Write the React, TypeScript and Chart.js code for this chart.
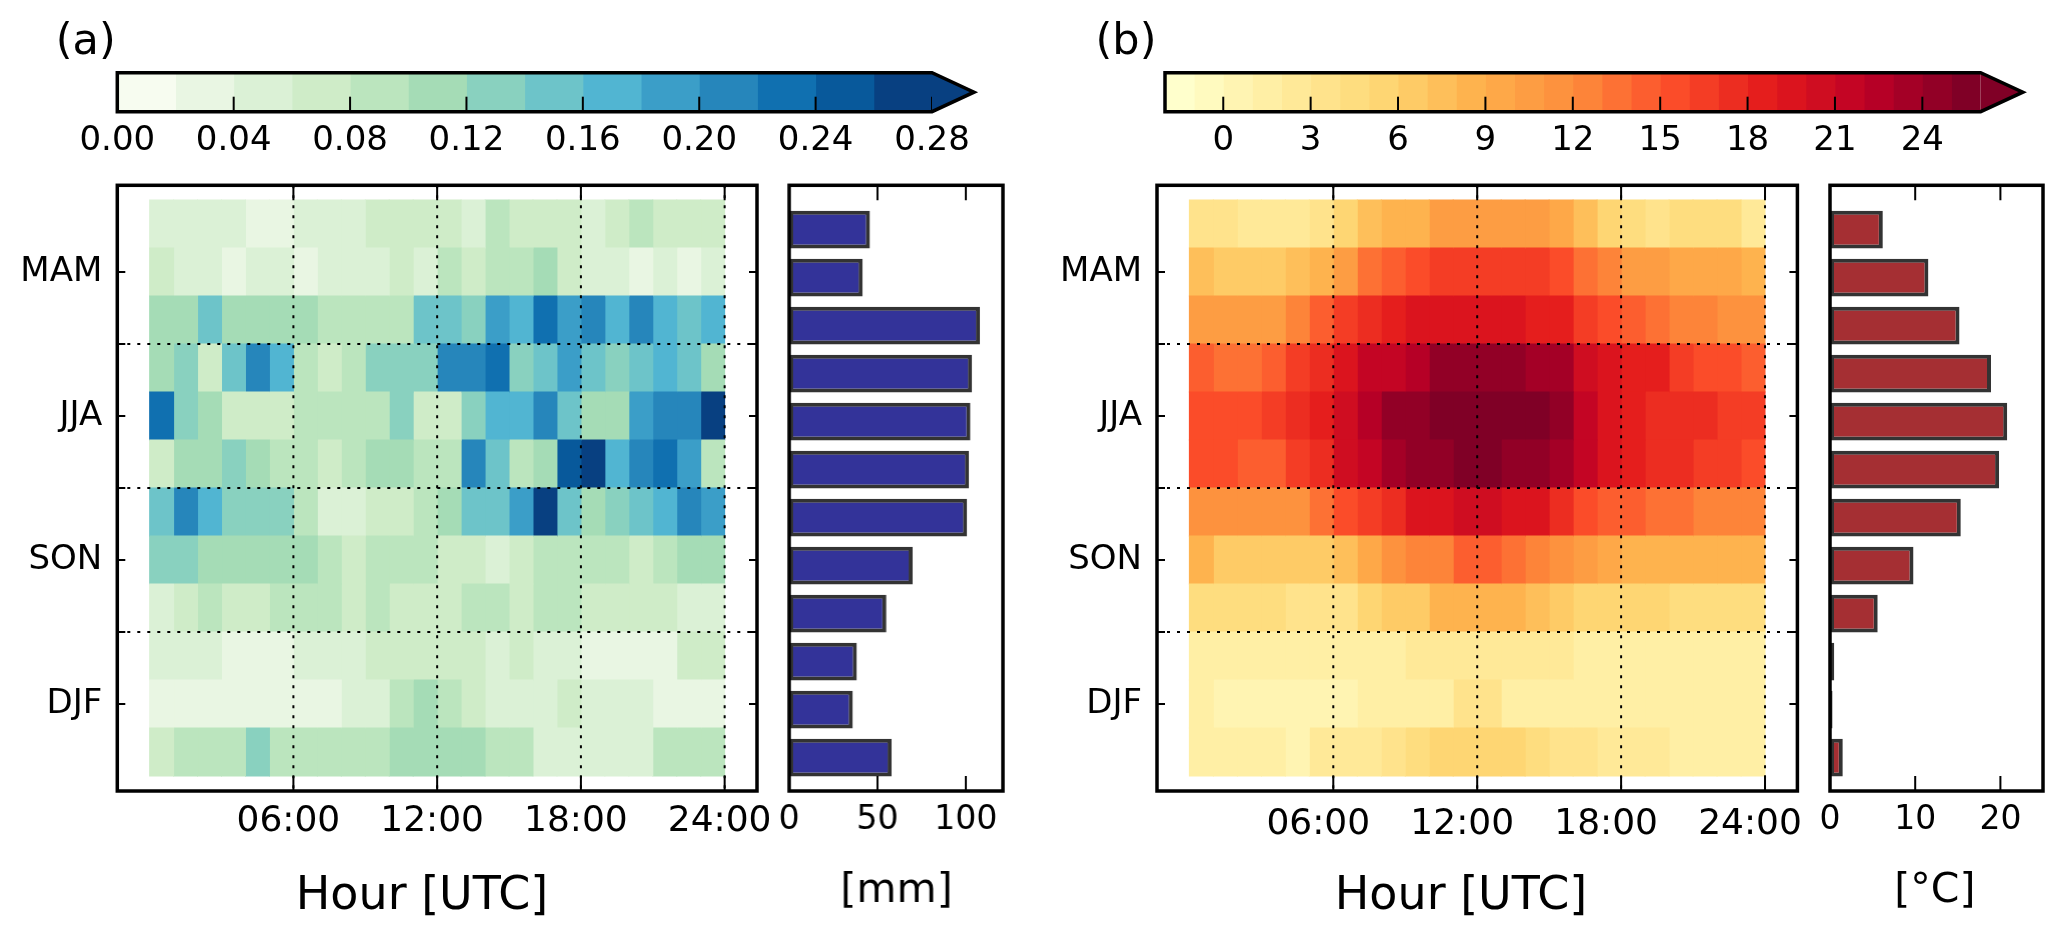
import React, { useEffect, useRef } from "react";
import { Chart, registerables } from "chart.js";

Chart.register(...registerables);

// ---------- data ----------
const seasonLabels = ["MAM", "JJA", "SON", "DJF"];
const hourTickValues = [6, 12, 18, 24];
const hourLabels = ["06:00", "12:00", "18:00", "24:00"];
const hours = [0, 1, 2, 3, 4, 5, 6, 7, 8, 9, 10, 11, 12, 13, 14, 15, 16, 17, 18, 19, 20, 21, 22, 23];

const precipMar = [.05,.05,.05,.05,.03,.03,.05,.05,.05,.07,.07,.07,.07,.05,.09,.07,.07,.07,.05,.07,.09,.07,.07,.07];
const precipApr = [.07,.05,.05,.03,.05,.05,.03,.05,.05,.05,.07,.05,.09,.07,.09,.09,.11,.07,.05,.05,.03,.05,.03,.05];
const precipMay = [.11,.11,.15,.11,.11,.11,.11,.09,.09,.09,.09,.15,.15,.13,.19,.17,.23,.19,.21,.17,.21,.17,.15,.17];
const precipJun = [.11,.13,.07,.15,.21,.17,.09,.07,.09,.13,.13,.13,.21,.21,.23,.13,.15,.19,.15,.13,.15,.17,.15,.11];
const precipJul = [.23,.13,.11,.07,.07,.07,.09,.09,.09,.09,.13,.07,.07,.13,.17,.17,.21,.15,.11,.11,.19,.21,.21,.27];
const precipAug = [.07,.11,.11,.13,.11,.09,.09,.07,.09,.11,.11,.09,.09,.21,.15,.09,.11,.25,.27,.17,.21,.23,.19,.09];
const precipSep = [.15,.21,.17,.13,.13,.13,.09,.05,.05,.07,.07,.09,.11,.15,.15,.19,.27,.15,.11,.13,.15,.17,.21,.19];
const precipOct = [.13,.13,.11,.11,.11,.11,.11,.09,.07,.09,.09,.09,.07,.07,.05,.07,.09,.09,.09,.09,.07,.09,.11,.11];
const precipNov = [.05,.07,.09,.07,.07,.09,.09,.09,.07,.09,.07,.07,.07,.09,.09,.07,.09,.09,.07,.07,.07,.07,.05,.05];
const precipDec = [.05,.05,.05,.03,.03,.03,.05,.05,.05,.07,.07,.07,.07,.07,.05,.07,.05,.05,.03,.03,.03,.03,.07,.07];
const precipJan = [.03,.03,.03,.03,.03,.03,.03,.03,.05,.05,.09,.11,.09,.07,.05,.05,.05,.07,.05,.05,.05,.03,.03,.03];
const precipFeb = [.07,.09,.09,.09,.13,.09,.09,.09,.09,.09,.11,.11,.11,.11,.09,.09,.05,.05,.05,.05,.05,.09,.09,.09];
const precipRows = [precipMar, precipApr, precipMay, precipJun, precipJul, precipAug, precipSep, precipOct, precipNov, precipDec, precipJan, precipFeb];

const tempMar = [3.5,3.5,2.5,2.5,2.5,3.5,5.5,7.5,8.5,8.5,10.5,10.5,10.5,10.5,10.5,9.5,7.5,5.5,4.5,3.5,4.5,4.5,4.5,2.5];
const tempApr = [7.5,6.5,6.5,6.5,7.5,8.5,10.5,13.5,14.5,15.5,16.5,16.5,16.5,16.5,16.5,15.5,13.5,12.5,10.5,10.5,9.5,9.5,9.5,8.5];
const tempMay = [10.5,10.5,10.5,10.5,12.5,14.5,16.5,17.5,18.5,19.5,19.5,19.5,19.5,19.5,18.5,18.5,16.5,15.5,14.5,13.5,12.5,12.5,11.5,11.5];
const tempJun = [14.5,13.5,13.5,14.5,16.5,17.5,19.5,21.5,21.5,22.5,24.5,24.5,24.5,24.5,23.5,23.5,20.5,19.5,18.5,18.5,16.5,15.5,15.5,14.5];
const tempJul = [15.5,15.5,15.5,16.5,17.5,18.5,20.5,22.5,24.5,24.5,25.5,25.5,25.5,25.5,25.5,24.5,21.5,19.5,18.5,17.5,17.5,17.5,16.5,16.5];
const tempAug = [15.5,15.5,14.5,14.5,16.5,17.5,20.5,21.5,23.5,24.5,24.5,25.5,25.5,24.5,24.5,23.5,21.5,19.5,18.5,17.5,17.5,16.5,16.5,15.5];
const tempSep = [11.5,11.5,11.5,11.5,11.5,13.5,15.5,16.5,17.5,19.5,19.5,20.5,20.5,19.5,19.5,17.5,15.5,14.5,14.5,13.5,13.5,12.5,12.5,12.5];
const tempOct = [8.5,6.5,6.5,6.5,6.5,6.5,7.5,9.5,11.5,12.5,12.5,14.5,14.5,13.5,12.5,11.5,10.5,9.5,8.5,8.5,8.5,8.5,8.5,8.5];
const tempNov = [4.5,4.5,4.5,4.5,3.5,3.5,3.5,5.5,6.5,6.5,8.5,8.5,8.5,8.5,7.5,6.5,5.5,5.5,5.5,5.5,4.5,4.5,4.5,4.5];
const tempDec = [1.5,1.5,1.5,1.5,1.5,1.5,1.5,1.5,1.5,2.5,2.5,2.5,2.5,2.5,2.5,2.5,1.5,1.5,1.5,1.5,1.5,1.5,1.5,1.5];
const tempJan = [1.5,0.5,0.5,0.5,0.5,0.5,0.5,1.5,1.5,1.5,1.5,3.5,3.5,1.5,1.5,1.5,1.5,1.5,1.5,1.5,1.5,1.5,1.5,1.5];
const tempFeb = [1.5,1.5,1.5,1.5,0.5,2.5,2.5,2.5,3.5,4.5,5.5,5.5,5.5,5.5,4.5,3.5,3.5,2.5,2.5,2.5,1.5,1.5,1.5,1.5];
const tempRows = [tempMar, tempApr, tempMay, tempJun, tempJul, tempAug, tempSep, tempOct, tempNov, tempDec, tempJan, tempFeb];

const precipTotals = [45.7, 41.6, 108, 103.5, 102.6, 101.8, 100.7, 69.9, 55, 38.3, 36, 58];
const tempMeans = [6.2, 11.55, 15.2, 18.9, 20.8, 19.85, 15.35, 9.8, 5.6, 0.5, 0.3, 1.5];

const precipCbTicks = [0, 0.04, 0.08, 0.12, 0.16, 0.2, 0.24, 0.28];
const tempCbTicks = [0, 3, 6, 9, 12, 15, 18, 21, 24];
const precipBarTicks = [0, 50, 100];
const tempBarTicks = [0, 10, 20];

const GNBU = ["#f7fcf0", "#e0f3db", "#ccebc5", "#a8ddb5", "#7bccc4", "#4eb3d3", "#2b8cbe", "#0868ac", "#084081"];
const YLORRD = ["#ffffcc", "#ffeda0", "#fed976", "#feb24c", "#fd8d3c", "#fc4e2a", "#e31a1c", "#bd0026", "#800026"];

// ---------- helpers ----------
const FONT = "'DejaVu Sans', sans-serif";
Chart.defaults.font.family = FONT;
Chart.defaults.color = "#000";

const hex = (s: string) => [1, 3, 5].map((i) => parseInt(s.slice(i, i + 2), 16));
function ramp(stops: string[], t: number) {
  const p = Math.min(Math.max(t, 0), 1) * (stops.length - 1);
  const i = Math.min(Math.floor(p), stops.length - 2);
  const a = hex(stops[i]);
  const b = hex(stops[i + 1]);
  const f = p - i;
  return `rgb(${a.map((v, k) => Math.round(v + (b[k] - v) * f)).join(",")})`;
}
type Norm = { min: number; step: number; n: number; stops: string[] };
function levelColor(norm: Norm, v: number) {
  const idx = Math.min(Math.max(Math.floor((v - norm.min) / norm.step), 0), norm.n - 1);
  return ramp(norm.stops, idx / (norm.n - 1));
}
const precipNorm: Norm = { min: 0, step: 0.02, n: 14, stops: GNBU };
const tempNorm: Norm = { min: -2, step: 1, n: 28, stops: YLORRD };

type Deco = {
  frame?: boolean;
  arrowTip?: number;
  arrowColor?: string;
  xTickLen?: number;
  xTop?: boolean;
  xBottom?: boolean;
  skipZero?: boolean;
  vDots?: number[];
  hDots?: number[];
  yTickVals?: number[];
  texts?: { t: string; x: number; y: number; size: number }[];
  originX: number;
  originY: number;
};

function decoPlugin(d: Deco) {
  return {
    id: "deco",
    afterDatasetsDraw(chart: any) {
      const { ctx, chartArea: a, scales } = chart;
      const sx = scales.x;
      const sy = scales.y;
      ctx.save();
      ctx.strokeStyle = "#000";
      ctx.fillStyle = "#000";
      // dotted guide lines
      ctx.lineWidth = 2;
      ctx.setLineDash([3, 7]);
      (d.vDots || []).forEach((v) => {
        const x = sx.getPixelForValue(v);
        ctx.beginPath();
        ctx.moveTo(x, a.top);
        ctx.lineTo(x, a.bottom);
        ctx.stroke();
      });
      (d.hDots || []).forEach((v) => {
        const y = sy.getPixelForValue(v);
        ctx.beginPath();
        ctx.moveTo(a.left, y);
        ctx.lineTo(a.right, y);
        ctx.stroke();
      });
      ctx.setLineDash([]);
      // inward ticks
      const len = d.xTickLen ?? 15;
      sx.ticks.forEach((tk: any) => {
        if (d.skipZero && tk.value === sx.min) return;
        const x = sx.getPixelForValue(tk.value);
        ctx.beginPath();
        if (d.xTop) {
          ctx.moveTo(x, a.top);
          ctx.lineTo(x, a.top + len);
        }
        if (d.xBottom) {
          ctx.moveTo(x, a.bottom);
          ctx.lineTo(x, a.bottom - len);
        }
        ctx.stroke();
      });
      (d.yTickVals || []).forEach((v) => {
        const y = sy.getPixelForValue(v);
        ctx.beginPath();
        ctx.moveTo(a.left, y);
        ctx.lineTo(a.left + 8, y);
        ctx.moveTo(a.right, y);
        ctx.lineTo(a.right - 8, y);
        ctx.stroke();
      });
      // arrow of the colour bar
      if (d.arrowTip !== undefined) {
        const mid = (a.top + a.bottom) / 2;
        const tip = d.arrowTip - d.originX;
        ctx.beginPath();
        ctx.moveTo(a.right, a.top);
        ctx.lineTo(tip, mid);
        ctx.lineTo(a.right, a.bottom);
        ctx.closePath();
        ctx.fillStyle = d.arrowColor;
        ctx.fill();
        ctx.fillStyle = "#000";
        ctx.lineWidth = 3.5;
        ctx.lineJoin = "miter";
        ctx.beginPath();
        ctx.moveTo(a.left, a.top);
        ctx.lineTo(a.right, a.top);
        ctx.lineTo(tip, mid);
        ctx.lineTo(a.right, a.bottom);
        ctx.lineTo(a.left, a.bottom);
        ctx.closePath();
        ctx.stroke();
      }
      if (d.frame) {
        ctx.lineWidth = 3.5;
        ctx.strokeRect(a.left, a.top, a.right - a.left, a.bottom - a.top);
      }
      (d.texts || []).forEach((t) => {
        ctx.font = `${t.size}px ${FONT}`;
        ctx.textAlign = "center";
        ctx.textBaseline = "middle";
        ctx.fillText(t.t, t.x - d.originX, t.y - d.originY);
      });
      ctx.restore();
    },
  };
}

const baseOptions = {
  responsive: false,
  animation: false,
  events: [],
  indexAxis: "y",
  plugins: { legend: { display: false }, tooltip: { enabled: false } },
};

// ---------- layout ----------
const Y_TOP = 185.3;
const Y_BOTTOM = 791;
const CB_TOP = 72.7;
const CB_BOTTOM = 111.7;
const PAGE_H = 941;

type PanelSpec = {
  originX: number;
  cbLeft: number; cbRight: number; cbTip: number;
  heatLeft: number; heatRight: number;
  barLeft: number; barRight: number;
  hourLabelOffset: number;
  tickPad: number;
  rows: number[][];
  norm: Norm;
  totals: number[];
  barMax: number;
  barStep: number;
  barColor: string;
  cbMax: number;
  cbTicks: number[];
  cbFormat: (v: number) => string;
  barTicks: number[];
  panel: string; panelX: number;
  hourTitleX: number;
  unit: string; unitX: number;
};

const panelA: PanelSpec = {
  originX: 0, cbLeft: 117.3, cbRight: 932, cbTip: 974,
  heatLeft: 117.3, heatRight: 757, barLeft: 789, barRight: 1002.6,
  hourLabelOffset: -5, tickPad: 1,
  rows: precipRows, norm: precipNorm, totals: precipTotals,
  barMax: 121, barStep: 50, barColor: "#333399",
  cbMax: 0.28, cbTicks: precipCbTicks, cbFormat: (v) => v.toFixed(2), barTicks: precipBarTicks,
  panel: "(a)", panelX: 85.7, hourTitleX: 422, unit: "[mm]", unitX: 896,
};
const panelB: PanelSpec = {
  originX: 1034, cbLeft: 1165, cbRight: 1980.6, cbTip: 2022.8,
  heatLeft: 1157, heatRight: 1797.4, barLeft: 1829.6, barRight: 2042.6,
  hourLabelOffset: -15, tickPad: 4,
  rows: tempRows, norm: tempNorm, totals: tempMeans,
  barMax: 25, barStep: 10, barColor: "#a52f33",
  cbMax: 26, cbTicks: tempCbTicks, cbFormat: (v) => String(v), barTicks: tempBarTicks,
  panel: "(b)", panelX: 1126, hourTitleX: 1461, unit: "[\u00b0C]", unitX: 1934.5,
};

function place(canvas: HTMLCanvasElement, x: number, y: number, w: number, h: number) {
  canvas.width = w;
  canvas.height = h;
  canvas.style.cssText = `position:absolute;left:${x}px;top:${y}px;width:${w}px;height:${h}px;`;
}

function buildPanel(p: PanelSpec, cv: HTMLCanvasElement[]) {
  const charts: Chart[] = [];

  // colour bar: one floating bar per level
  const cbX = Math.max(p.originX, 0);
  const cbW = 1033;
  const cbH = 170;
  place(cv[0], cbX, 0, cbW, cbH);
  const levels = Array.from({ length: p.norm.n }, (_, i) => i);
  charts.push(
    new Chart(cv[0], {
      type: "bar",
      data: {
        labels: ["bar"],
        datasets: levels.map((i) => ({
          data: [[p.norm.min + i * p.norm.step, p.norm.min + (i + 1) * p.norm.step]],
          backgroundColor: ramp(p.norm.stops, i / (p.norm.n - 1)),
          grouped: false,
          barPercentage: 1,
          categoryPercentage: 1,
          borderWidth: 0,
          inflateAmount: 0.5,
        })),
      },
      options: {
        ...baseOptions,
        layout: { padding: { left: p.cbLeft - cbX, right: cbX + cbW - p.cbRight, top: CB_TOP, bottom: 0 } },
        scales: {
          x: {
            type: "linear",
            min: p.norm.min,
            max: p.cbMax,
            afterBuildTicks: (s: any) => { s.ticks = p.cbTicks.map((value) => ({ value })); },
            afterFit: (s: any) => { s.height = cbH - CB_BOTTOM; },
            grid: { display: false },
            border: { display: false },
            ticks: {
              autoSkip: false, maxRotation: 0, padding: 1, font: { size: 34 }, color: "#000",
              callback: (v: number) => p.cbFormat(v),
            },
          },
          y: { display: false },
        },
      },
      plugins: [decoPlugin({
        originX: cbX, originY: 0, xBottom: true, xTickLen: 15, skipZero: true,
        arrowTip: p.cbTip, arrowColor: ramp(p.norm.stops, 1),
        texts: [{ t: p.panel, x: p.panelX, y: 43, size: 43 }],
      })],
    } as any),
  );

  // heat map: one stacked bar series per hour, one bar per month row
  const heatTop = 140;
  const heatX = p.originX;
  const heatW = 800;
  const heatH = PAGE_H - heatTop;
  place(cv[1], heatX, heatTop, heatW, heatH);
  charts.push(
    new Chart(cv[1], {
      type: "bar",
      data: {
        datasets: hours.map((h) => ({
          data: p.rows.map((_, i) => ({ x: 1, y: i })),
          backgroundColor: p.rows.map((row) => levelColor(p.norm, row[h])),
          barPercentage: 1,
          categoryPercentage: 1,
          borderWidth: 0,
          inflateAmount: 0.5,
        })),
      },
      options: {
        ...baseOptions,
        layout: { padding: { left: 0, right: heatX + heatW - p.heatRight, top: Y_TOP - heatTop, bottom: 0 } },
        scales: {
          x: {
            type: "linear",
            stacked: true,
            min: -1.35,
            max: 25.35,
            afterBuildTicks: (s: any) => { s.ticks = hourTickValues.map((value) => ({ value })); },
            afterFit: (s: any) => { s.height = PAGE_H - Y_BOTTOM; },
            grid: { display: false },
            border: { display: false },
            ticks: {
              autoSkip: false, maxRotation: 0, padding: p.tickPad, font: { size: 36 }, color: "#000",
              labelOffset: p.hourLabelOffset,
              callback: (_v: number, i: number) => hourLabels[i],
            },
          },
          y: {
            type: "linear",
            stacked: true,
            reverse: true,
            offset: false,
            min: -0.806,
            max: 11.812,
            afterBuildTicks: (s: any) => { s.ticks = [1, 4, 7, 10].map((value) => ({ value })); },
            afterFit: (s: any) => { s.width = p.heatLeft - heatX; },
            grid: { display: false },
            border: { display: false },
            ticks: {
              autoSkip: false, padding: 7, font: { size: 34 }, color: "#000", labelOffset: 0,
              callback: (_v: number, i: number) => seasonLabels[i],
            },
          },
        },
      },
      plugins: [decoPlugin({
        originX: heatX, originY: heatTop, frame: true, xTop: true, xBottom: true, xTickLen: 15,
        vDots: hourTickValues, hDots: [2.5, 5.5, 8.5],
        yTickVals: [1, 2.5, 4, 5.5, 7, 8.5, 10],
        texts: [{ t: "Hour [UTC]", x: p.hourTitleX, y: 896.7, size: 46 }],
      })],
    } as any),
  );

  // side bars
  const barX = p.barLeft - 40;
  const barW = p.barRight - barX + 20;
  place(cv[2], barX, heatTop, barW, heatH);
  charts.push(
    new Chart(cv[2], {
      type: "bar",
      data: {
        datasets: [{
          data: p.totals.map((v, i) => ({ x: v, y: i })),
          backgroundColor: p.barColor,
          borderColor: "#333333",
          borderWidth: 4,
          borderSkipped: false,
          barPercentage: 0.85,
          categoryPercentage: 1,
        }],
      },
      options: {
        ...baseOptions,
        layout: { padding: { left: 40, right: 20, top: Y_TOP - heatTop, bottom: 0 } },
        scales: {
          x: {
            type: "linear",
            min: 0,
            max: p.barMax,
            afterBuildTicks: (s: any) => { s.ticks = p.barTicks.map((value) => ({ value })); },
            afterFit: (s: any) => { s.height = PAGE_H - Y_BOTTOM; },
            grid: { display: false },
            border: { display: false },
            ticks: { autoSkip: false, maxRotation: 0, padding: 2, font: { size: 33 }, color: "#000" },
          },
          y: { type: "linear", reverse: true, offset: false, display: false, min: -0.923, max: 11.696 },
        },
      },
      plugins: [decoPlugin({
        originX: barX, originY: heatTop, frame: true, xTop: true, xBottom: true, xTickLen: 15, skipZero: true,
        texts: [{ t: p.unit, x: p.unitX, y: 891, size: 41 }],
      })],
    } as any),
  );
  return charts;
}

export default function App() {
  const refs = useRef<(HTMLCanvasElement | null)[]>([]);
  useEffect(() => {
    document.body.style.background = "#fff";
    document.body.style.overflow = "hidden";
    const c = refs.current as HTMLCanvasElement[];
    const charts = [...buildPanel(panelA, c.slice(0, 3)), ...buildPanel(panelB, c.slice(3, 6))];
    return () => charts.forEach((ch) => ch.destroy());
  }, []);
  return (
    <div style={{ position: "absolute", left: 0, top: 0, width: 2067, height: 941, background: "#fff", overflow: "hidden" }}>
      {[0, 1, 2, 3, 4, 5].map((i) => (
        <canvas key={i} ref={(el) => { refs.current[i] = el; }} />
      ))}
    </div>
  );
}
